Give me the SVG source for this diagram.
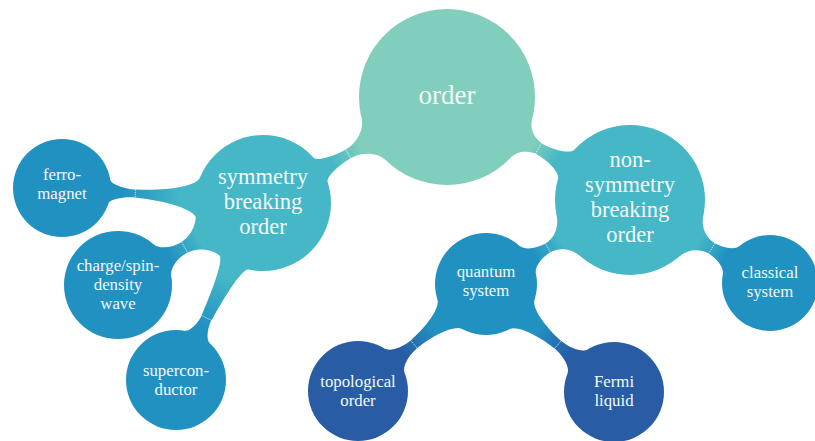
<svg xmlns="http://www.w3.org/2000/svg" width="815" height="441" viewBox="0 0 815 441">
<style>
.t{font-family:"Liberation Serif","Times New Roman",serif;fill:#f3fafa;text-anchor:middle}
.xl{font-size:27px}.big{font-size:22.5px}.sm{font-size:16.8px}
.tick{stroke:#ffffff;stroke-width:0.8;stroke-dasharray:1.2 1;fill:none;opacity:0.9}
.mint{fill:#80cebb}.teal{fill:#45b7c7}.blue{fill:#2191c2}.navy{fill:#285da5}
</style>
<defs>
<linearGradient id="gMT" x1="0" y1="0" x2="1" y2="0"><stop offset="0.25" stop-color="#80cebb"/><stop offset="0.8" stop-color="#45b7c7"/></linearGradient>
<linearGradient id="gTB" x1="0" y1="0" x2="1" y2="0"><stop offset="0.2" stop-color="#45b7c7"/><stop offset="0.85" stop-color="#2191c2"/></linearGradient>
<linearGradient id="gBN" x1="0" y1="0" x2="1" y2="0"><stop offset="0.3" stop-color="#2191c2"/><stop offset="0.85" stop-color="#285da5"/></linearGradient>
</defs>
<g id="connectors">
<g transform="translate(447,97) rotate(150.05)"><path fill="url(#gMT)" d="M84.6,-24.3 C87.6,-13.7 100.8,-5 114,-5 C128.3,-5 144.7,-9.1 145.8,-14.1 L145.8,14.1 C144.7,9.1 128.3,5 114,5 C100.8,5 87.6,13.7 84.6,24.3 Z"/><line class="tick" x1="114" y1="-5" x2="114" y2="5"/></g>
<g transform="translate(447,97) rotate(29.37)"><path fill="url(#gMT)" d="M85.4,-21.3 C87.5,-12.9 97.3,-6 107,-6 C120.5,-6 135.5,-10.9 136.9,-16.9 L136.9,16.9 C135.5,10.9 120.5,6 107,6 C97.3,6 87.5,12.9 85.4,21.3 Z"/><line class="tick" x1="105" y1="-6" x2="105" y2="6"/></g>
<g transform="translate(263,203) rotate(184.27)"><path fill="url(#gTB)" d="M64.7,-21 C67.8,-11.4 96,-5 128,-4 C138,-3.7 152.9,-7.2 154.1,-11.9 L154.1,11.9 C152.9,7.2 138,3.7 128,4 C96,5 67.8,11.4 64.7,21 Z"/><line class="tick" x1="128" y1="-4" x2="128" y2="4"/></g>
<g transform="translate(263,203) rotate(150.51)"><path fill="url(#gTB)" d="M63,-25.5 C67.3,-14.7 78.9,-6 92,-6 C102.8,-6 113.4,-11.6 115.9,-18.5 L115.9,18.5 C113.4,11.6 102.8,6 92,6 C78.9,6 67.3,14.7 63,25.5 Z"/><line class="tick" x1="90" y1="-6" x2="90" y2="6"/></g>
<g transform="translate(263,203) rotate(116.17)"><path fill="url(#gTB)" d="M66,-16.4 C67.5,-10.6 95,-7.2 128,-5.5 C136,-5.1 147.7,-9 149.1,-13.8 L149.1,13.8 C147.7,9 136,5.1 128,5.5 C95,7.2 67.5,10.6 66,16.4 Z"/><line class="tick" x1="128" y1="-5.5" x2="128" y2="5.5"/></g>
<g transform="translate(630,200) rotate(149.74)"><path fill="url(#gTB)" d="M71.3,-23.2 C74.5,-13.2 84.3,-5 95,-5 C105.4,-5 116.3,-9.9 118.2,-15.8 L118.2,15.8 C116.3,9.9 105.4,5 95,5 C84.3,5 74.5,13.2 71.3,23.2 Z"/><line class="tick" x1="95" y1="-5" x2="95" y2="5"/></g>
<g transform="translate(630,200) rotate(30.66)"><path fill="url(#gTB)" d="M71.3,-23.2 C74.4,-13.8 84.3,-6 95,-6 C105.2,-6 115.6,-10.7 117.7,-16.4 L117.7,16.4 C115.6,10.7 105.2,6 95,6 C84.3,6 74.4,13.8 71.3,23.2 Z"/><line class="tick" x1="95" y1="-6" x2="95" y2="6"/></g>
<g transform="translate(486,284) rotate(140.1)"><path fill="url(#gBN)" d="M47.3,-19.1 C50.4,-11.3 73,-5.5 94,-5 C105.3,-5 117.3,-9.7 119.2,-15.5 L119.2,15.5 C117.3,9.7 105.3,5 94,5 C73,5.5 50.4,11.3 47.3,19.1 Z"/><line class="tick" x1="94" y1="-5" x2="94" y2="5"/></g>
<g transform="translate(486,284) rotate(40.16)"><path fill="url(#gBN)" d="M47.3,-19.1 C50.4,-11.3 73,-5.5 94,-5 C105.7,-5 118,-9.7 119.9,-15.5 L119.9,15.5 C118,9.7 105.7,5 94,5 C73,5.5 50.4,11.3 47.3,19.1 Z"/><line class="tick" x1="94" y1="-5" x2="94" y2="5"/></g>
</g>
<g id="order"><circle class="mint" cx="447" cy="97" r="88"/><text class="t xl" x="447" y="104">order</text></g>
<g id="symmetry-breaking"><circle class="teal" cx="263" cy="203" r="68"/><text class="t big" x="263" y="184">symmetry</text><text class="t big" x="263" y="209">breaking</text><text class="t big" x="263" y="234">order</text></g>
<g id="non-symmetry-breaking"><circle class="teal" cx="630" cy="200" r="75"/><text class="t big" x="630" y="167">non-</text><text class="t big" x="630" y="192">symmetry</text><text class="t big" x="630" y="217">breaking</text><text class="t big" x="630" y="242">order</text></g>
<g id="ferromagnet"><circle class="blue" cx="62" cy="188" r="49"/><text class="t sm" x="62" y="180">ferro-</text><text class="t sm" x="62" y="199">magnet</text></g>
<g id="density-wave"><circle class="blue" cx="118" cy="285" r="54"/><text class="t sm" x="118" y="271">charge/spin-</text><text class="t sm" x="118" y="290">density</text><text class="t sm" x="118" y="309">wave</text></g>
<g id="superconductor"><circle class="blue" cx="176" cy="380" r="50"/><text class="t sm" x="176" y="376">supercon-</text><text class="t sm" x="176" y="395">ductor</text></g>
<g id="quantum-system"><circle class="blue" cx="486" cy="284" r="51"/><text class="t sm" x="486" y="277">quantum</text><text class="t sm" x="486" y="296">system</text></g>
<g id="classical-system"><circle class="blue" cx="770" cy="283" r="48"/><text class="t sm" x="770" y="278">classical</text><text class="t sm" x="770" y="297">system</text></g>
<g id="topological-order"><circle class="navy" cx="358" cy="391" r="50"/><text class="t sm" x="358" y="387">topological</text><text class="t sm" x="358" y="406">order</text></g>
<g id="fermi-liquid"><circle class="navy" cx="614" cy="392" r="50"/><text class="t sm" x="614" y="387">Fermi</text><text class="t sm" x="614" y="406">liquid</text></g>
</svg>
